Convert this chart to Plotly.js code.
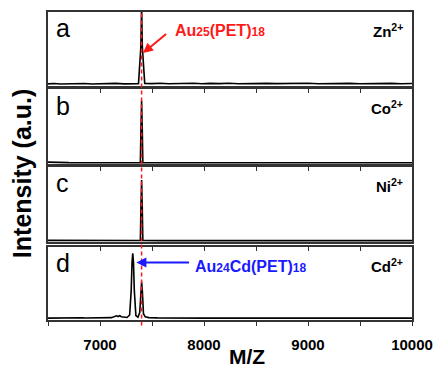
<!DOCTYPE html>
<html>
<head>
<meta charset="utf-8">
<script src="https://cdn.plot.ly/plotly-3.0.1.min.js"></script>
<style>html,body{margin:0;padding:0;background:#fff;}#chart{width:437px;height:370px;}</style>
</head>
<body>
<div id="chart"></div>
<script>
// Panel a: Zn2+
const xA = [6500, 6560, 6620, 6700, 6780, 6850, 6920, 7000, 7080, 7150, 7230, 7300, 7370, 7393, 7400, 7407, 7430, 7500, 7580, 7660, 7740, 7820, 7900, 7980, 8060, 8150, 8240, 8330, 8420, 8510, 8600, 8700, 8800, 8900, 9000, 9100, 9200, 9300, 9400, 9500, 9600, 9700, 9800, 9900, 10000];
const yA = [0.012, 0.018, 0.010, 0.016, 0.012, 0.019, 0.011, 0.017, 0.013, 0.020, 0.012, 0.018, 0.015, 0.60, 1.25, 0.60, 0.020, 0.016, 0.022, 0.014, 0.020, 0.015, 0.023, 0.014, 0.021, 0.016, 0.022, 0.015, 0.020, 0.014, 0.021, 0.016, 0.019, 0.015, 0.022, 0.014, 0.020, 0.016, 0.021, 0.015, 0.019, 0.016, 0.021, 0.015, 0.018];
// Panel b: Co2+
const xB = [6500, 6550, 6600, 6700, 7000, 7300, 7388, 7394, 7400, 7406, 7412, 7600, 8000, 9000, 10000];
const yB = [0.012, 0.010, 0.006, 0.003, 0.002, 0.002, 0.003, 0.55, 0.967, 0.55, 0.004, 0.002, 0.002, 0.002, 0.002];
// Panel c: Ni2+
const xC = [6500, 6600, 6800, 7000, 7300, 7388, 7394, 7400, 7406, 7412, 7600, 8000, 9000, 10000];
const yC = [0.006, 0.005, 0.004, 0.003, 0.003, 0.004, 0.55, 0.947, 0.55, 0.005, 0.003, 0.003, 0.003, 0.003];
// Panel d: Cd2+
const xD = [6500, 6650, 6700, 6730, 6760, 6800, 6830, 6860, 6950, 7000, 7050, 7080, 7110, 7140, 7160, 7175, 7190, 7205, 7230, 7260, 7285, 7300, 7308, 7315, 7322, 7330, 7345, 7365, 7382, 7393, 7400, 7407, 7418, 7435, 7470, 7550, 7650, 7750, 7800, 7850, 8000, 8500, 9000, 9500, 10000];
const yD = [0.010, 0.012, 0.020, 0.014, 0.018, 0.025, 0.015, 0.012, 0.014, 0.020, 0.016, 0.022, 0.018, 0.035, 0.048, 0.036, 0.050, 0.032, 0.022, 0.020, 0.06, 0.45, 0.90, 1.05, 0.90, 0.45, 0.05, 0.025, 0.10, 0.45, 0.594, 0.45, 0.08, 0.030, 0.018, 0.014, 0.012, 0.012, 0.018, 0.012, 0.010, 0.010, 0.010, 0.010, 0.010];

const panelLetters = ['a', 'b', 'c', 'd'];
const ionLabels = ['Zn<sup>2+</sup>', 'Co<sup>2+</sup>', 'Ni<sup>2+</sup>', 'Cd<sup>2+</sup>'];
const xTitle = 'M/Z';
const yTitle = 'Intensity (a.u.)';
const refMass = 7400;

const FONT = 'Arial, "Liberation Sans", Helvetica, sans-serif';
const XR = [6500, 10000];
const YR = [-0.02, 1.15];
const doms = [[0.760, 1.0], [0.506, 0.750], [0.253, 0.497], [0, 0.237]];
const xid = n => (n === 1 ? 'x' : 'x' + n);
const yid = n => (n === 1 ? 'y' : 'y' + n);
const xkey = n => (n === 1 ? 'xaxis' : 'xaxis' + n);
const ykey = n => (n === 1 ? 'yaxis' : 'yaxis' + n);

const series = [[xA, yA], [xB, yB], [xC, yC], [xD, yD]];
const traces = series.map((s, i) => ({
  x: s[0], y: s[1], type: 'scatter', mode: 'lines',
  line: {color: '#000', width: 1.6},
  xaxis: xid(i + 1), yaxis: yid(i + 1),
  hoverinfo: 'skip', showlegend: false
}));
// empty traces for top tick overlay axes on b, c, d
[2, 3, 4].forEach((p, k) => {
  traces.push({x: [], y: [], type: 'scatter', mode: 'lines', xaxis: xid(5 + k), yaxis: yid(p), showlegend: false});
});

const layout = {
  width: 437, height: 370,
  margin: {l: 48, r: 25, t: 12, b: 50},
  paper_bgcolor: '#fff', plot_bgcolor: '#fff',
  showlegend: false,
  font: {family: FONT, color: '#000'},
  annotations: [], shapes: []
};

for (let i = 0; i < 4; i++) {
  const n = i + 1;
  const xa = {
    domain: [0, 1], range: XR, anchor: yid(n),
    showline: true, mirror: true, linecolor: '#333', linewidth: 2,
    showgrid: false, zeroline: false, fixedrange: true
  };
  if (n === 4) {
    Object.assign(xa, {
      ticks: 'outside', ticklen: 4, tickwidth: 1, tickcolor: '#333',
      dtick: 1000, tick0: 7000, tickformat: 'd', showticklabels: true,
      tickfont: {family: FONT, size: 15, weight: 'bold', color: '#000'},
      ticklabelstandoff: 6,
      minor: {dtick: 500, tick0: 6500, ticks: 'outside', ticklen: 4, tickwidth: 1, tickcolor: '#333'}
    });
  } else {
    Object.assign(xa, {ticks: '', showticklabels: false});
  }
  layout[xkey(n)] = xa;
  layout[ykey(n)] = {
    domain: doms[i], range: YR, anchor: xid(n),
    showline: true, mirror: true, linecolor: '#333', linewidth: 2,
    showgrid: false, zeroline: false, ticks: '', showticklabels: false, fixedrange: true
  };
  layout.annotations.push({
    xref: xid(n), yref: yid(n) + ' domain', x: 6560, y: 0.78,
    xanchor: 'left', yanchor: 'middle', showarrow: false,
    text: panelLetters[i], font: {family: FONT, size: 25, color: '#000'}
  });
  layout.annotations.push({
    xref: 'paper', yref: yid(n) + ' domain', x: 0.98, y: 0.75,
    xanchor: 'right', yanchor: 'middle', showarrow: false,
    text: ionLabels[i], font: {family: FONT, size: 15, weight: 'bold', color: '#000'}
  });
}
// top inside ticks for panels b, c, d
[2, 3, 4].forEach((p, k) => {
  layout[xkey(5 + k)] = {
    overlaying: xid(p), anchor: yid(p), side: 'top', range: XR,
    ticks: 'inside', ticklen: 4, tickwidth: 1, tickcolor: '#333', dtick: 500, tick0: 6500,
    showticklabels: false, showline: false, showgrid: false, zeroline: false, fixedrange: true
  };
});

// red dashed reference line through all panels
layout.shapes.push({
  type: 'line', xref: 'x4', yref: 'paper', x0: refMass, x1: refMass, y0: -0.018, y1: 1.0,
  line: {color: '#ff1a1a', width: 1.5, dash: '4px,3px'}, layer: 'above'
});

// annotations with arrows
layout.annotations.push({
  xref: 'x', yref: 'y', x: 7413, y: 0.50, ax: 7650, ay: 0.82, axref: 'x', ayref: 'y',
  text: '', showarrow: true, arrowhead: 2, arrowsize: 1, arrowwidth: 2, arrowcolor: '#ff1a1a'
});
layout.annotations.push({
  xref: 'x', yref: 'y', x: 7700, y: 0.86, xanchor: 'left', yanchor: 'middle', showarrow: false,
  text: 'Au<span style="font-size:12px">25</span>(PET)<span style="font-size:12px">18</span>',
  font: {family: FONT, size: 16, weight: 'bold', color: '#ff1a1a'}
});
layout.annotations.push({
  xref: 'x4', yref: 'y4', x: 7350, y: 0.90, ax: 7870, ay: 0.90, axref: 'x4', ayref: 'y4',
  text: '', showarrow: true, arrowhead: 2, arrowsize: 1, arrowwidth: 2, arrowcolor: '#1a1aff'
});
layout.annotations.push({
  xref: 'x4', yref: 'y4', x: 7890, y: 0.83, xanchor: 'left', yanchor: 'middle', showarrow: false,
  text: 'Au<span style="font-size:12px">24</span>Cd(PET)<span style="font-size:12px">18</span>',
  font: {family: FONT, size: 16, weight: 'bold', color: '#1a1aff'}
});

// axis titles
layout.annotations.push({
  xref: 'paper', yref: 'paper', x: -0.071, y: 0.474, textangle: -90,
  xanchor: 'center', yanchor: 'middle', showarrow: false,
  text: yTitle, font: {family: FONT, size: 25, weight: 'bold', color: '#000'}
});
layout.annotations.push({
  xref: 'paper', yref: 'paper', x: 0.546, y: -0.118,
  xanchor: 'center', yanchor: 'middle', showarrow: false,
  text: xTitle, font: {family: FONT, size: 21, weight: 'bold', color: '#000'}
});

Plotly.newPlot('chart', traces, layout, {staticPlot: true, displayModeBar: false});
</script>
</body>
</html>
